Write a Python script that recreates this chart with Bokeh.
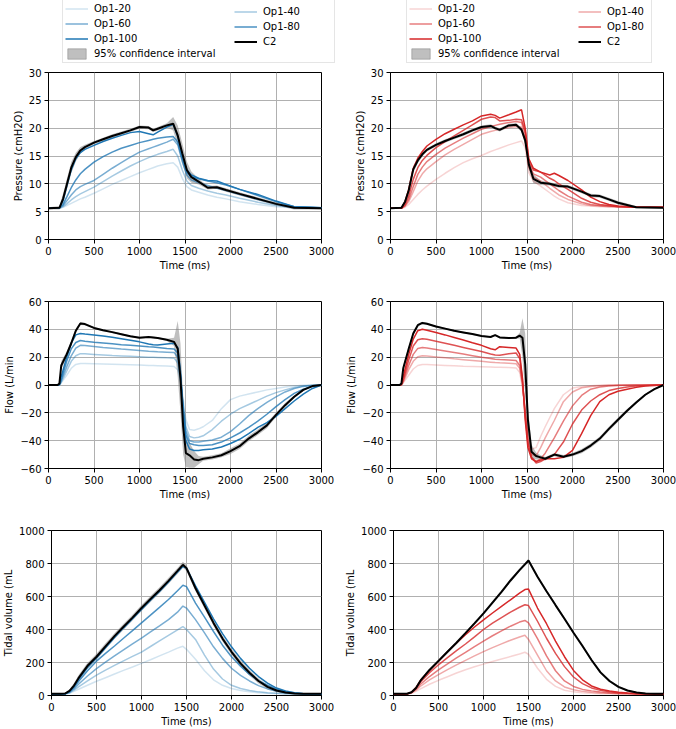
from bokeh.plotting import figure
from bokeh.models import Range1d, Legend, LegendItem
from bokeh.layouts import column, row
from bokeh.embed import file_html
from bokeh.resources import INLINE

# ---------------- data ----------------
LABELS = ["Op1-20", "Op1-40", "Op1-60", "Op1-80", "Op1-100"]
ALPHAS = [0.2, 0.4, 0.6, 0.8, 1.0]
X_TICKS = [0, 500, 1000, 1500, 2000, 2500, 3000]
P_TICKS = [0, 5, 10, 15, 20, 25, 30]
F_TICKS = [-60, -40, -20, 0, 20, 40, 60]
V_TICKS = [0, 200, 400, 600, 800, 1000]

# Pressure, left column (blue)
T_PL = [0, 120, 160, 200, 250, 300, 350, 400, 500, 600, 700, 800, 900, 1000, 1100, 1150, 1200, 1300, 1370, 1420,
        1470, 1520, 1570, 1650, 1750, 1850, 1950, 2100, 2300, 2500, 2700, 3000]
PL_C2 = [5.6, 5.7, 7.3, 9.8, 12.9, 14.8, 16.0, 16.6, 17.4, 18.0, 18.6, 19.1, 19.6, 20.2, 20.1, 19.6, 19.9, 20.5, 20.8, 18.7,
         15.5, 12.5, 11.2, 10.4, 9.3, 9.4, 8.9, 8.2, 7.3, 6.4, 5.7, 5.6]
PL_CI = [0.2, 0.3, 0.9, 1.0, 1.0, 0.8, 0.6, 0.4, 0.3, 0.3, 0.3, 0.3, 0.3, 0.3, 0.3, 0.3, 0.3, 0.4, 1.2, 1.8,
         1.8, 1.5, 1.0, 0.5, 0.3, 0.3, 0.3, 0.3, 0.3, 0.3, 0.3, 0.2]
PL_20 = [5.6, 5.6, 5.8, 6.1, 6.5, 6.9, 7.3, 7.6, 8.3, 9.1, 9.9, 10.6, 11.3, 12.0, 12.6, 12.9, 13.2, 13.6, 13.8, 13.0,
         11.0, 9.5, 8.9, 8.5, 8.0, 7.6, 7.3, 6.8, 6.3, 5.9, 5.7, 5.7]
PL_40 = [5.6, 5.6, 5.9, 6.4, 7.1, 7.7, 8.2, 8.6, 9.4, 10.4, 11.4, 12.3, 13.2, 14.0, 14.7, 15.0, 15.3, 15.8, 16.2, 15.0,
         12.5, 10.5, 9.7, 9.2, 8.7, 8.3, 8.0, 7.4, 6.7, 6.1, 5.8, 5.7]
PL_60 = [5.6, 5.7, 6.1, 6.9, 8.0, 8.9, 9.5, 9.9, 10.6, 11.7, 12.8, 13.8, 14.8, 15.7, 16.3, 16.6, 16.9, 17.5, 18.0, 17.0,
         14.0, 11.6, 10.7, 10.2, 9.7, 9.2, 8.8, 8.1, 7.2, 6.4, 5.8, 5.7]
PL_80 = [5.6, 5.7, 6.3, 7.6, 9.3, 10.7, 11.8, 12.6, 13.9, 14.9, 15.7, 16.4, 16.9, 17.4, 17.8, 18.0, 18.2, 18.4, 18.5, 17.5,
         14.5, 12.0, 11.3, 10.9, 10.5, 10.2, 9.8, 9.0, 7.9, 6.8, 5.9, 5.7]
PL_100 = [5.6, 5.7, 7.0, 9.5, 12.5, 14.5, 15.6, 16.2, 16.9, 17.6, 18.2, 18.7, 19.2, 19.4, 19.0, 18.8, 19.3, 20.2, 20.7, 18.5,
          15.0, 12.5, 11.6, 11.0, 10.6, 10.5, 9.9, 9.0, 8.1, 6.9, 5.9, 5.7]

# Pressure, right column (red)
T_PR = [0, 120, 160, 200, 250, 300, 350, 400, 500, 600, 700, 800, 900, 1000, 1100, 1150, 1200, 1300, 1380, 1440,
        1480, 1520, 1570, 1650, 1750, 1800, 1850, 1950, 2100, 2200, 2300, 2400, 2500, 2700, 3000]
PR_C2 = [5.6, 5.7, 6.8, 8.8, 12.6, 14.2, 15.3, 16.1, 17.0, 17.7, 18.3, 18.9, 19.6, 20.2, 20.4, 20.0, 19.7, 20.5, 20.6, 19.7,
         17.8, 13.5, 10.9, 10.2, 10.0, 9.8, 9.6, 9.5, 8.6, 7.9, 7.8, 7.2, 6.6, 5.8, 5.7]
PR_CI = [0.1, 0.2, 0.4, 0.6, 0.6, 0.5, 0.4, 0.3, 0.3, 0.3, 0.3, 0.3, 0.3, 0.3, 0.3, 0.3, 0.3, 0.3, 0.3, 0.4,
         0.8, 1.0, 0.8, 0.4, 0.3, 0.3, 0.3, 0.3, 0.3, 0.3, 0.3, 0.3, 0.3, 0.2, 0.2]
PR_20 = [5.6, 5.6, 5.8, 6.3, 7.2, 8.1, 8.9, 9.6, 10.8, 11.9, 12.9, 13.8, 14.5, 15.1, 15.8, 16.1, 16.4, 17.0, 17.4, 17.7,
         16.5, 12.0, 10.5, 9.6, 8.4, 7.8, 7.3, 6.6, 6.1, 6.0, 5.9, 5.9, 5.9, 5.9, 5.9]
PR_40 = [5.6, 5.6, 6.0, 6.8, 8.6, 10.5, 11.8, 12.7, 14.0, 15.2, 16.2, 17.1, 18.0, 18.9, 19.4, 19.6, 19.8, 20.1, 20.3, 20.2,
         18.0, 13.0, 11.2, 10.5, 9.2, 8.6, 8.0, 7.2, 6.4, 6.1, 6.0, 5.9, 5.9, 5.8, 5.8]
PR_60 = [5.6, 5.6, 6.1, 7.2, 9.5, 11.7, 13.0, 14.0, 15.3, 16.4, 17.3, 18.2, 19.0, 19.8, 20.3, 20.5, 20.7, 21.0, 21.2, 21.0,
         19.0, 13.5, 11.8, 11.2, 10.0, 9.4, 8.8, 7.8, 6.7, 6.3, 6.1, 6.0, 5.9, 5.8, 5.8]
PR_80 = [5.6, 5.6, 6.3, 7.8, 10.8, 12.9, 14.2, 15.1, 16.5, 17.6, 18.6, 19.6, 20.6, 21.6, 22.0, 21.9, 21.3, 21.4, 21.6, 21.5,
         19.5, 14.0, 12.5, 12.1, 11.0, 10.6, 10.0, 9.0, 7.4, 6.7, 6.3, 6.1, 5.9, 5.8, 5.8]
PR_100 = [5.6, 5.6, 6.8, 9.0, 12.8, 14.6, 15.8, 16.8, 18.0, 19.0, 19.8, 20.6, 21.3, 22.2, 22.5, 22.3, 21.8, 22.4, 22.9, 23.3,
          20.0, 14.5, 12.8, 12.1, 11.6, 11.9, 11.5, 10.6, 8.9, 7.6, 6.8, 6.3, 6.0, 5.8, 5.8]

# Flow (both columns share the time grid)
T_F = [0, 100, 120, 140, 200, 250, 300, 350, 400, 500, 600, 700, 800, 900, 1000, 1100, 1150, 1200, 1300, 1380,
       1420, 1450, 1480, 1510, 1550, 1600, 1650, 1700, 1800, 1900, 2000, 2100, 2200, 2300, 2400, 2500, 2600, 2700,
       2800, 2900, 3000]
FL_C2 = [0, 0, 1, 14, 22, 30, 39, 44.2, 43.8, 41, 39.3, 38, 36.5, 35, 34, 34.5, 34.2, 33.8, 32.5, 31,
         26, 5, -30, -49, -50.5, -53.5, -54, -53, -52, -50.5, -47.5, -44, -38.5, -34, -29, -21.5, -14.5, -8.5,
         -3.5, -0.8, 0]
FL_CI = [0.5, 0.5, 1, 3, 2, 2, 1.5, 1, 0.8, 0.6, 0.6, 0.6, 0.6, 0.6, 0.6, 0.6, 0.6, 0.6, 0.8, 3,
         20, 25, 20, 10, 9, 6, 3, 1.5, 1.5, 1.5, 2, 2, 2, 2, 2, 1.5, 1.5, 1, 0.8, 0.5, 0.5]
FL_20 = [0, 0, 0, 1.5, 7, 12, 14.8, 15.5, 15.5, 15.3, 15.1, 14.9, 14.7, 14.5, 14.3, 14.1, 14, 13.9, 13.6, 13.3,
         11, 3, -10, -25, -32, -32.5, -31.5, -30, -25.5, -17, -10.5, -8, -6.5, -5, -3.5, -2.5, -1.5, -0.7,
         -0.2, 0, 0]
FL_40 = [0, 0, 0.1, 2, 10, 17, 21, 22.5, 22.4, 22, 21.6, 21.2, 20.9, 20.6, 20.3, 20, 19.9, 19.8, 19.5, 19.3,
         16, 4, -14, -30, -37, -38, -37.5, -36.5, -32, -26, -21, -17, -14, -11, -8, -5.5, -3.5, -1.8,
         -0.7, -0.2, 0]
FL_60 = [0, 0, 0.2, 3, 13, 21, 26.5, 28.5, 28.3, 27.7, 27, 26.4, 25.8, 25.3, 24.8, 24.3, 24.1, 23.9, 23.6, 23.3,
         20, 6, -16, -33, -40, -41, -41, -40.5, -39.5, -37.5, -33.5, -28, -22, -17, -12.5, -8.5, -5, -2.5,
         -1, -0.3, 0]
FL_80 = [0, 0, 0.3, 4, 17, 26, 30.5, 32, 31.5, 30.8, 30.2, 29.6, 29, 28.5, 28, 27.5, 27.3, 27, 26.2, 25.8,
         23, 8, -18, -36, -42, -43, -43.5, -43.5, -43, -41, -38, -34.5, -30.5, -26, -21, -15.5, -10.5, -6,
         -3, -1, 0]
FL_100 = [0, 0, 0.5, 6, 20, 30, 36, 37, 36.6, 36, 35.2, 34.3, 33.3, 32.2, 31, 29.5, 29, 28.8, 29.5, 30,
          27, 10, -20, -40, -46, -47, -47, -46.5, -46, -44.5, -42, -39, -35, -30.5, -27, -22.5, -17, -11.5,
          -6.5, -2.5, 0]

FR_C2 = [0, 0, 1, 12, 26, 37, 43, 44.6, 44, 42, 40.5, 39, 37.8, 36.6, 35.2, 34.5, 35.8, 34.2, 33.7, 34,
         35.5, 34, 15, -25, -48, -51, -52, -53, -50, -51.5, -50, -47.5, -43.5, -38.5, -31.5, -25, -18.5, -12.5,
         -7, -3, 0]
FR_CI = [0.5, 0.5, 1, 2, 1.5, 1.5, 1, 0.8, 0.7, 0.6, 0.6, 0.6, 0.6, 0.6, 0.6, 0.6, 0.6, 0.6, 0.6, 0.8,
         2, 14, 22, 10, 5, 2.5, 1.5, 1.2, 1.2, 1.2, 1.2, 1.5, 1.5, 1.5, 1.5, 1.5, 1.2, 1, 0.8, 0.5, 0.5]
FR_20 = [0, 0, 0, 1.5, 7, 11.5, 14, 14.8, 14.7, 14.4, 14.1, 13.8, 13.5, 13.3, 13.1, 12.9, 12.8, 12.7, 12.5, 12.3,
         9, -2, -18, -35, -46, -45, -37, -30, -17, -7, -2.2, -1, -0.5, -0.2, 0, 0, 0, 0, 0, 0, 0]
FR_40 = [0, 0, 0.1, 2, 11, 17, 20.3, 21, 20.8, 20.2, 19.5, 18.8, 18.2, 17.6, 17, 16.4, 16.1, 15.9, 15.6, 15.3,
         12, 0, -18, -38, -50, -51, -45, -38, -25.5, -12, -5, -2, -1, -0.5, -0.2, 0, 0, 0, 0, 0, 0]
FR_60 = [0, 0, 0.2, 3, 14, 22, 26.3, 27, 26.6, 25.5, 24.4, 23.3, 22.2, 21.1, 20, 19, 18.5, 18.3, 18, 17.6,
         14, 2, -20, -40, -52, -55, -53, -49, -38, -26, -15, -7.5, -3, -1.5, -0.8, -0.4, -0.2, 0, 0, 0, 0]
FR_80 = [0, 0, 0.3, 4, 18, 28, 32.5, 33.3, 32.8, 31.5, 30, 28.5, 27, 25.5, 24, 22.3, 21.5, 21.3, 22.5, 23,
         19, 4, -22, -42, -52, -56, -55, -53, -50, -41, -28, -18, -11.5, -7, -4, -2.5, -1.5, -0.8, -0.4, 0, 0]
FR_100 = [0, 0, 0.5, 6, 22, 33, 39, 40, 39.3, 37.7, 36, 34.2, 32.3, 30.3, 28.5, 26, 25.3, 27.5, 27, 26.5,
          22, 5, -25, -45, -53, -55, -54, -53, -53, -52, -47, -35, -22, -12, -7, -4.5, -3, -1.7, -0.8, -0.3, 0]

# Tidal volume (both columns share the time grid)
T_V = [0, 100, 150, 200, 250, 300, 400, 500, 600, 700, 800, 900, 1000, 1100, 1200, 1300, 1400, 1460, 1500, 1600,
       1700, 1800, 1900, 2000, 2100, 2200, 2300, 2400, 2500, 2600, 2700, 2800, 2900, 3000]
VL_C2 = [10, 10, 12, 28, 60, 105, 180, 235, 298, 360, 417, 472, 530, 585, 638, 695, 755, 792, 772, 650,
         545, 440, 345, 265, 195, 138, 88, 52, 30, 18, 12, 10, 10, 10]
VL_CI = [4, 4, 5, 10, 15, 18, 18, 18, 18, 18, 18, 18, 18, 18, 18, 18, 18, 18, 18, 18,
         18, 18, 18, 18, 18, 18, 15, 12, 10, 8, 6, 5, 5, 4]
VL_20 = [8, 8, 9, 14, 25, 38, 62, 86, 108, 130, 152, 173, 195, 217, 240, 263, 287, 298, 280, 220,
         150, 95, 62, 42, 30, 22, 17, 14, 12, 10, 9, 8, 8, 8]
VL_40 = [8, 8, 9, 16, 32, 52, 88, 124, 154, 183, 210, 237, 263, 297, 331, 365, 398, 418, 400, 340,
         245, 160, 100, 62, 42, 30, 22, 16, 13, 11, 10, 9, 8, 8]
VL_60 = [8, 8, 10, 20, 40, 68, 118, 163, 202, 240, 277, 313, 348, 385, 422, 460, 505, 542, 530, 460,
         380, 295, 225, 165, 122, 88, 60, 40, 27, 18, 13, 10, 9, 8]
VL_80 = [8, 8, 10, 22, 48, 85, 150, 208, 255, 300, 347, 393, 440, 487, 534, 582, 635, 668, 660, 560,
         475, 388, 305, 235, 178, 128, 90, 62, 38, 24, 15, 11, 9, 8]
VL_100 = [8, 8, 10, 24, 55, 98, 170, 228, 290, 352, 410, 465, 522, 578, 630, 688, 748, 782, 772, 665,
          565, 465, 375, 295, 225, 165, 115, 75, 45, 27, 16, 11, 9, 8]

VR_C2 = [10, 10, 11, 20, 45, 90, 155, 210, 265, 320, 378, 437, 498, 563, 628, 697, 760, 795, 818, 720,
         632, 548, 465, 380, 300, 215, 140, 88, 52, 30, 18, 12, 10, 10]
VR_CI = [3, 3, 4, 6, 8, 10, 10, 10, 10, 10, 10, 10, 10, 10, 10, 10, 10, 10, 10, 10,
         10, 10, 10, 10, 10, 10, 9, 8, 6, 5, 4, 4, 3, 3]
VR_20 = [8, 8, 9, 14, 25, 40, 68, 92, 114, 136, 156, 174, 190, 206, 221, 236, 252, 262, 250, 165,
         98, 55, 32, 22, 16, 13, 11, 10, 9, 9, 8, 8, 8, 8]
VR_40 = [8, 8, 9, 16, 32, 56, 95, 127, 157, 186, 213, 240, 266, 290, 313, 335, 355, 365, 340, 245,
         150, 88, 52, 35, 25, 19, 15, 13, 11, 10, 9, 8, 8, 8]
VR_60 = [8, 8, 10, 18, 38, 68, 115, 155, 192, 228, 262, 296, 330, 362, 392, 420, 445, 455, 440, 345,
         240, 150, 88, 55, 37, 28, 21, 17, 14, 12, 10, 9, 8, 8]
VR_80 = [8, 8, 10, 19, 44, 82, 138, 186, 230, 272, 312, 355, 400, 438, 472, 505, 535, 550, 545, 450,
         347, 255, 175, 112, 72, 46, 31, 22, 16, 13, 11, 10, 9, 8]
VR_100 = [8, 8, 10, 20, 48, 92, 152, 208, 265, 318, 368, 415, 458, 500, 540, 580, 620, 642, 645, 530,
          435, 330, 235, 152, 95, 58, 38, 27, 20, 15, 12, 10, 9, 8]

# ---------------- styling / layout ----------------
BLUE = "#1f77b4"
RED = "#d62728"
FONT = "DejaVu Sans"
FRAME_W = 273
LEFT_B = 48
RIGHT_B = [21, 13]          # right border of left / right column figures
ROWS = [                    # (top border, frame height, bottom border)
    (6, 167, 34),
    (28, 167, 34),
    (28, 166, 33),
]
LEG_H = 66
LEG_X = [62, 64]
LEG_LABEL_W = [238, 211]


def style_axes(p, yticks, ylabel):
    for ax in (p.xaxis[0], p.yaxis[0]):
        ax.major_tick_in = 0
        ax.major_tick_out = 4
        ax.minor_tick_line_color = None
        ax.major_tick_line_color = "black"
        ax.axis_line_color = "black"
        ax.major_label_text_font = FONT
        ax.major_label_text_font_size = "10px"
        ax.major_label_text_color = "black"
        ax.major_label_standoff = 3
        ax.axis_label_text_font = FONT
        ax.axis_label_text_font_size = "10px"
        ax.axis_label_text_font_style = "normal"
        ax.axis_label_text_color = "black"
        ax.axis_label_standoff = 2
    p.xaxis.ticker = X_TICKS
    p.yaxis.ticker = yticks
    p.xaxis.axis_label = "Time (ms)"
    p.yaxis.axis_label = ylabel
    p.yaxis.major_label_overrides = {v: ("\u2212" + str(-v)) for v in yticks if v < 0}
    p.grid.grid_line_color = "#b0b0b0"
    p.grid.grid_line_width = 1
    p.outline_line_color = "black"
    p.outline_line_alpha = 1
    p.outline_line_width = 1


def make_panel(col, row_i, t, series, c2, ci, ylabel, yr, yticks, color):
    top, fh, bottom = ROWS[row_i]
    right = RIGHT_B[col]
    p = figure(width=LEFT_B + FRAME_W + right, height=top + fh + bottom,
               output_backend="svg", toolbar_location=None,
               x_range=Range1d(0, 3000), y_range=Range1d(*yr),
               min_border_left=LEFT_B, min_border_right=right,
               min_border_top=top, min_border_bottom=bottom)
    style_axes(p, yticks, ylabel)
    lo = [c - h for c, h in zip(c2, ci)]
    hi = [c + h for c, h in zip(c2, ci)]
    p.varea(x=t, y1=lo, y2=hi, fill_color="#808080", fill_alpha=0.5)
    for vals, a in zip(series, ALPHAS):
        p.line(t, vals, line_color=color, line_alpha=a, line_width=1.5)
    p.line(t, c2, line_color="black", line_width=2)
    return p


def make_legend_fig(col, color):
    w = LEFT_B + FRAME_W + RIGHT_B[col]
    p = figure(width=w, height=LEG_H, output_backend="svg", toolbar_location=None,
               x_range=Range1d(0, 1), y_range=Range1d(0, 1),
               x_axis_location=None, y_axis_location=None, min_border=0,
               min_border_left=0, min_border_right=0, min_border_top=0, min_border_bottom=0)
    p.outline_line_color = None
    p.grid.visible = False
    # proxy glyphs placed outside the visible range: only their legend entries show
    px, py = [5, 6], [5, 6]
    rs = [p.line(x=px, y=py, line_color=color, line_alpha=a, line_width=1.5) for a in ALPHAS]
    r_c2 = p.line(x=px, y=py, line_color="black", line_width=2)
    r_ci = p.quad(left=[5], right=[6], bottom=[5], top=[6], fill_color="#808080", fill_alpha=0.5,
                  line_color="#808080", line_alpha=0.5)
    common = dict(label_text_font=FONT, label_text_font_size="10px", label_text_color="black",
                  glyph_width=23, glyph_height=13, label_height=13, label_standoff=6,
                  spacing=2, padding=2, margin=0)
    x0 = LEG_X[col]
    leg_a = Legend(items=[LegendItem(label=LABELS[0], renderers=[rs[0]]),
                          LegendItem(label=LABELS[2], renderers=[rs[2]]),
                          LegendItem(label=LABELS[4], renderers=[rs[4]]),
                          LegendItem(label="95% confidence interval", renderers=[r_ci])],
                   location=(x0, 3), label_width=LEG_LABEL_W[col],
                   border_line_color="#cccccc", border_line_width=1,
                   background_fill_color="white", background_fill_alpha=1.0, **common)
    leg_b = Legend(items=[LegendItem(label=LABELS[1], renderers=[rs[1]]),
                          LegendItem(label=LABELS[3], renderers=[rs[3]]),
                          LegendItem(label="C2", renderers=[r_c2])],
                   location=(x0 + 172, 3 + 15),
                   border_line_color=None, background_fill_alpha=0.0, **common)
    p.add_layout(leg_a)
    p.add_layout(leg_b)
    return p


l1 = make_legend_fig(0, BLUE)
l2 = make_legend_fig(1, RED)
p11 = make_panel(0, 0, T_PL, [PL_20, PL_40, PL_60, PL_80, PL_100], PL_C2, PL_CI,
                 "Pressure (cmH2O)", (0, 30), P_TICKS, BLUE)
p12 = make_panel(1, 0, T_PR, [PR_20, PR_40, PR_60, PR_80, PR_100], PR_C2, PR_CI,
                 "Pressure (cmH2O)", (0, 30), P_TICKS, RED)
p21 = make_panel(0, 1, T_F, [FL_20, FL_40, FL_60, FL_80, FL_100], FL_C2, FL_CI,
                 "Flow (L/min", (-60, 60), F_TICKS, BLUE)
p22 = make_panel(1, 1, T_F, [FR_20, FR_40, FR_60, FR_80, FR_100], FR_C2, FR_CI,
                 "Flow (L/min", (-60, 60), F_TICKS, RED)
p31 = make_panel(0, 2, T_V, [VL_20, VL_40, VL_60, VL_80, VL_100], VL_C2, VL_CI,
                 "Tidal volume (mL", (0, 1000), V_TICKS, BLUE)
p32 = make_panel(1, 2, T_V, [VR_20, VR_40, VR_60, VR_80, VR_100], VR_C2, VR_CI,
                 "Tidal volume (mL", (0, 1000), V_TICKS, RED)

layout = column(row(l1, l2), row(p11, p12), row(p21, p22), row(p31, p32))
open("out.html", "w").write(file_html(layout, INLINE))
